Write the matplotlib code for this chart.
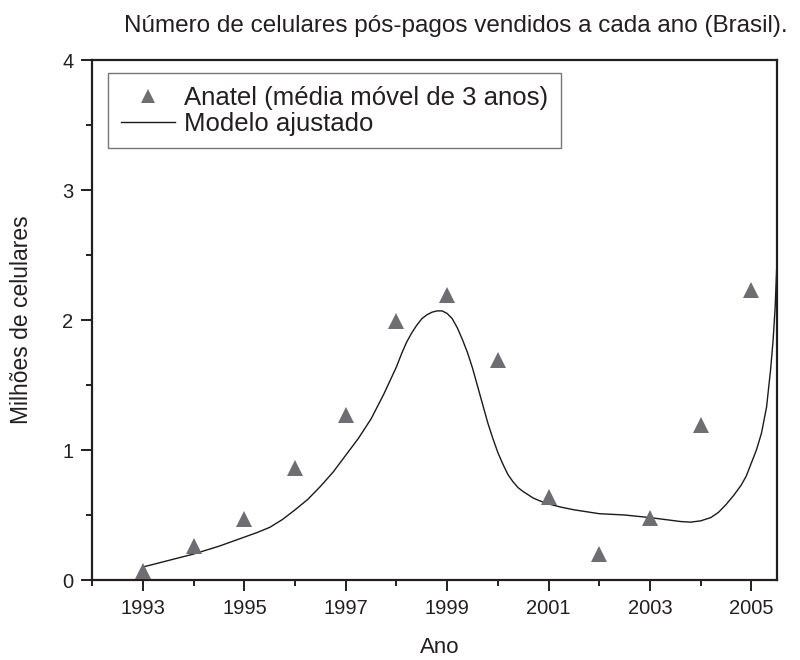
import matplotlib
matplotlib.use("Agg")
import matplotlib.pyplot as plt
from matplotlib.ticker import MultipleLocator, FixedLocator

plt.rcParams['font.family'] = ['Liberation Sans', 'DejaVu Sans']

# ---- data ----
years = [1993, 1994, 1995, 1996, 1997, 1998, 1999, 2000, 2001, 2002, 2003, 2004, 2005]
anatel = [0.07, 0.26, 0.47, 0.86, 1.27, 1.99, 2.19, 1.69, 0.64, 0.20, 0.48, 1.19, 2.23]

curve_x = [1993.0, 1993.5, 1994.0, 1994.5, 1995.0, 1995.25, 1995.5, 1995.75, 1996.0,
           1996.25, 1996.5, 1996.75, 1997.0, 1997.25, 1997.5, 1997.75, 1998.0, 1998.1,
           1998.2, 1998.3, 1998.4, 1998.5, 1998.6, 1998.7, 1998.8, 1998.9, 1999.0,
           1999.1, 1999.2, 1999.3, 1999.4, 1999.5, 1999.6, 1999.7, 1999.8, 1999.9,
           2000.0, 2000.1, 2000.2, 2000.3, 2000.4, 2000.5, 2000.7, 2000.85, 2001.0,
           2001.25, 2001.5, 2002.0, 2002.5, 2003.0, 2003.4, 2003.6, 2003.8, 2004.0,
           2004.2, 2004.35, 2004.5, 2004.65, 2004.8, 2004.9, 2005.0, 2005.1, 2005.2,
           2005.3, 2005.38, 2005.43, 2005.47, 2005.5]
curve_y = [0.10, 0.15, 0.20, 0.26, 0.33, 0.365, 0.405, 0.465, 0.54,
           0.62, 0.72, 0.83, 0.96, 1.09, 1.24, 1.43, 1.64, 1.74,
           1.83, 1.90, 1.96, 2.01, 2.04, 2.06, 2.07, 2.07, 2.05,
           2.01, 1.94, 1.85, 1.75, 1.63, 1.49, 1.35, 1.21, 1.09,
           0.98, 0.89, 0.81, 0.755, 0.71, 0.68, 0.63, 0.605, 0.585,
           0.56, 0.54, 0.51, 0.50, 0.48, 0.46, 0.45, 0.445, 0.455,
           0.48, 0.52, 0.58, 0.65, 0.73, 0.80, 0.90, 1.00, 1.13,
           1.33, 1.62, 1.85, 2.10, 2.40]

x_major = [1993, 1995, 1997, 1999, 2001, 2003, 2005]
y_major = [0, 1, 2, 3, 4]

title = "Número de celulares pós-pagos vendidos a cada ano (Brasil)."
xlabel = "Ano"
ylabel = "Milhões de celulares"
label_pts = "Anatel (média móvel de 3 anos)"
label_line = "Modelo ajustado"

# ---- figure ----
ink = "#231f20"
W, H = 800, 660
fig = plt.figure(figsize=(W / 100, H / 100), dpi=100)
L, R, T, B = 92.3, 776.7, 60, 580
ax = fig.add_axes([L / W, 1 - B / H, (R - L) / W, (B - T) / H])

ax.plot(years, anatel, linestyle='none', marker='^', markersize=11,
        color='#6e6e72', markeredgewidth=0, label=label_pts, zorder=3)
ax.plot(curve_x, curve_y, color='#1a1a1a', lw=1.0, label=label_line, zorder=2,
        solid_joinstyle='round')

ax.set_xlim(1992, 2005.5)
ax.set_ylim(0, 4)
ax.xaxis.set_major_locator(FixedLocator(x_major))
ax.xaxis.set_minor_locator(MultipleLocator(1))
ax.yaxis.set_major_locator(FixedLocator(y_major))
ax.yaxis.set_minor_locator(MultipleLocator(0.5))

for s in ax.spines.values():
    s.set_linewidth(1.6)
    s.set_color(ink)

ax.tick_params(which='major', direction='out', length=8, width=1.4, color=ink,
               labelsize=14.5, labelcolor=ink, pad=5.5)
ax.tick_params(which='minor', direction='out', length=4.3, width=1.4, color=ink)

fig.text(788 / W, 1 - 32 / H, title, ha='right', va='baseline',
         fontsize=17.5, color=ink)
fig.text(440 / W, 1 - 653 / H, xlabel, ha='center', va='baseline',
         fontsize=16, color=ink)
fig.text(22 / W, 1 - 320 / H, ylabel, ha='center', va='center', rotation=90,
         fontsize=16.5, color=ink)

leg = ax.legend(loc='upper left',
                bbox_to_anchor=((108 - L) / (R - L), 1 - (73 - T) / (B - T)),
                borderaxespad=0, fontsize=18.5, frameon=True, fancybox=False,
                handlelength=2.1, handletextpad=0.35, borderpad=0.5,
                labelspacing=0.07, markerscale=0.95)
leg.get_frame().set_edgecolor('#555555')
leg.get_frame().set_linewidth(1.0)
for t in leg.get_texts():
    t.set_color(ink)

fig.savefig("out.png", dpi=100)
